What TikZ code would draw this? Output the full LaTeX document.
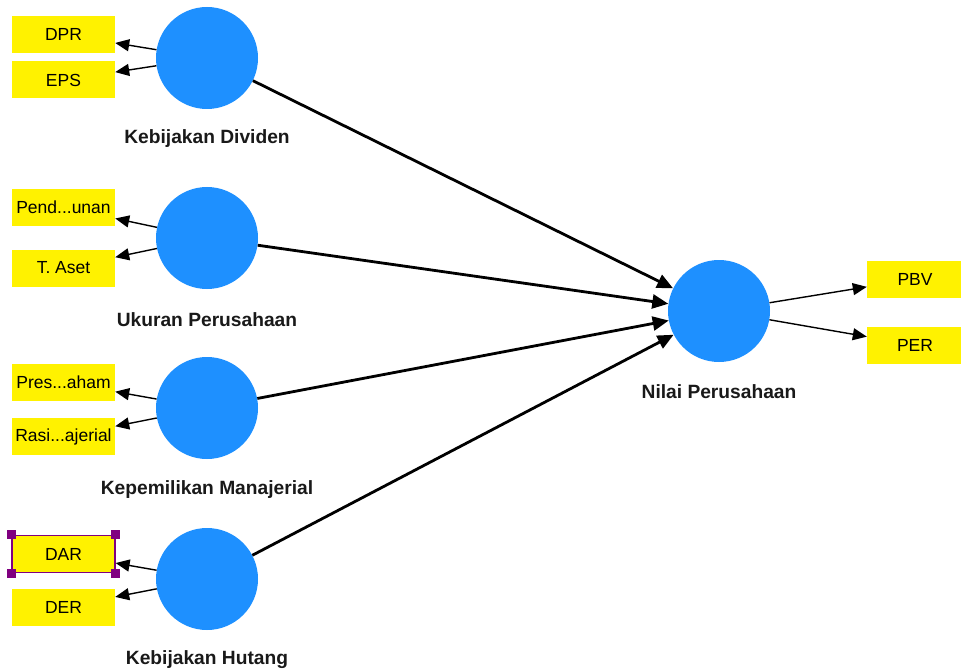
\documentclass[tikz,border=0pt]{standalone}
\usepackage{fontspec}
\setmainfont{Liberation Sans}
\usetikzlibrary{arrows.meta}
\definecolor{lvblue}{RGB}{30,144,255}
\definecolor{selpurple}{RGB}{128,0,128}
\tikzset{
    lv/.style={circle,fill=lvblue,draw=none,minimum size=102pt,inner sep=0pt},
    ind/.style={fill=yellow,minimum width=103pt,minimum height=37pt,inner sep=0pt,font=\fontsize{17.5}{19}\selectfont},
    rind/.style={ind,minimum width=96pt},
    lbl/.style={font=\fontsize{19.2}{21}\selectfont\bfseries,text=black!90},
    hnd/.style={fill=selpurple,minimum size=9pt,inner sep=0pt},
    struct/.style={every edge/.style={draw,line width=2.8pt,-{Triangle[length=16pt,width=14pt]}}},
    meas/.style={every edge/.style={draw,line width=1.4pt,-{Triangle[length=14pt,width=12pt]}}},
}

\begin{document}
\begin{tikzpicture}[x=1pt,y=-1pt]
\useasboundingbox (0,0) rectangle (961,671);
\def\bx{63.5}
% latent variables
\node[lv] (kd) at (207,58)  {};
\node[lv] (uk) at (207,238) {};
\node[lv] (km) at (207,408) {};
\node[lv] (kh) at (207,579) {};
\node[lv] (np) at (719,311) {};
\node[lbl] at (207,139) {Kebijakan Dividen};
\node[lbl] at (207,320) {Ukuran Perusahaan};
\node[lbl] at (207,490) {Kepemilikan Manajerial};
\node[lbl] at (207,660) {Kebijakan Hutang};
\node[lbl] at (719,392) {Nilai Perusahaan};
% indicators
\node[ind] (dpr)  at (\bx,34.5)  {DPR};
\node[ind] (eps)  at (\bx,80)    {EPS};
\node[ind] (pend) at (\bx,207.5) {Pend...unan};
\node[ind] (ta)   at (\bx,268)   {T. Aset};
\node[ind] (pres) at (\bx,382.5) {Pres...aham};
\node[ind] (rasi) at (\bx,436.5) {Rasi...ajerial};
\node[ind,draw=selpurple,line width=1.2pt] (dar) at (\bx,554) {DAR};
\node[ind] (der)  at (\bx,607)   {DER};
\node[rind] (pbv) at (915,279)   {PBV};
\node[rind] (per) at (915,345)   {PER};
% selection handles
\foreach \c in {north west,north east,south west,south east}
    \node[hnd] at (dar.\c) {};
\path[meas]
(kd) edge (dpr)
(kd) edge (eps)
(uk) edge (pend)
(uk) edge (ta)
(km) edge (pres)
(km) edge (rasi)
(kh) edge (dar)
(kh) edge (der)
(np) edge (pbv)
(np) edge (per)
;
\path[struct]
(kd) edge (np)
(uk) edge (np)
(km) edge (np)
(kh) edge (np)
;
\end{tikzpicture}
\end{document}
